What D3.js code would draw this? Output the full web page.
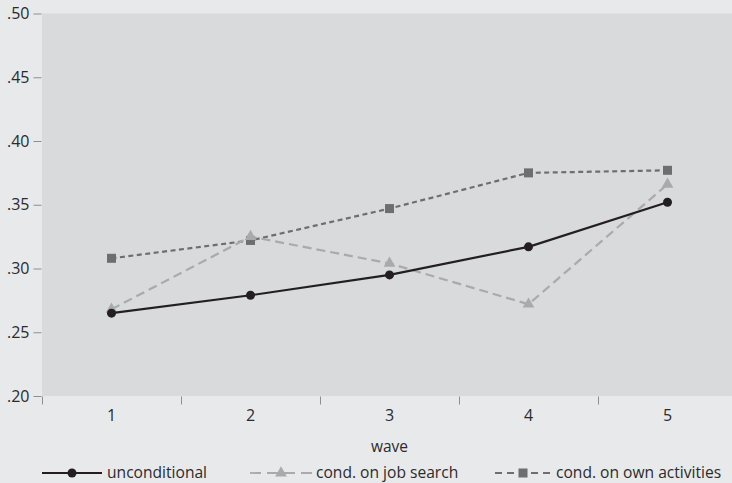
<!DOCTYPE html>
<html>
<head>
<meta charset="utf-8">
<script src="https://cdn.jsdelivr.net/npm/d3@7"></script>
<style>
body { margin:0; background:#e8e9eb; }
svg text { font-family:"Open Sans", sans-serif; fill:#2b2b2b; }
</style>
</head>
<body>
<svg id="chart"></svg>
<script>
//values
var waves = [1, 2, 3, 4, 5]
var unconditional = [0.265, 0.279, 0.295, 0.317, 0.352]
var jobSearch = [0.268, 0.325, 0.304, 0.272, 0.366]
var ownActivities = [0.308, 0.322, 0.347, 0.375, 0.377]
var yTicks = [0.20, 0.25, 0.30, 0.35, 0.40, 0.45, 0.50]
var xMinorTicks = [0.5, 1.5, 2.5, 3.5, 4.5]

var series = [
    {name:"unconditional", values:unconditional, color:"#231f20", dash:null, legendDash:null, marker:"circle"},
    {name:"cond. on job search", values:jobSearch, color:"#a9aaac", dash:"9,5", legendDash:"11,6", marker:"triangle"},
    {name:"cond. on own activities", values:ownActivities, color:"#6d6e71", dash:"5,3.5", legendDash:"7,5", marker:"square"}
]

var screen = {width:732, height:483}
var plot = {left:42, top:13.5, right:737, bottom:396}

var svg = d3.select("#chart")
    .attr("width", screen.width)
    .attr("height", screen.height)

svg.append("rect")
    .attr("width", screen.width)
    .attr("height", screen.height)
    .attr("fill", "#e8e9eb")

svg.append("rect")
    .attr("x", plot.left)
    .attr("y", plot.top)
    .attr("width", screen.width - plot.left)
    .attr("height", plot.bottom - plot.top)
    .attr("fill", "#d9dadc")

var xScale = d3.scaleLinear()
    .domain([0.5, 5.5])
    .range([plot.left, plot.right])

var yScale = d3.scaleLinear()
    .domain([0.20, 0.50])
    .range([plot.bottom, plot.top])

//y axis
var yAxis = d3.axisLeft(yScale)
    .tickValues(yTicks)
    .tickSize(8)
    .tickPadding(4)
    .tickFormat(function(d) { return d3.format(".2f")(d).replace(/^0/, "") })

var gy = svg.append("g")
    .attr("transform", "translate(" + (plot.left - 0.5) + ",0)")
    .call(yAxis)
gy.select(".domain").remove()
gy.selectAll("line").attr("stroke", "#8e8f91")
gy.selectAll("text").style("font-size", "16px").attr("fill", "#2b2b2b")

//x axis: minor ticks between waves, labels at waves
var xAxis = d3.axisBottom(xScale)
    .tickValues(xMinorTicks)
    .tickSize(8)
    .tickFormat("")
var gx = svg.append("g")
    .attr("transform", "translate(0," + (plot.bottom + 0.5) + ")")
    .call(xAxis)
gx.select(".domain").remove()
gx.selectAll("line").attr("stroke", "#8e8f91")

svg.append("g")
    .selectAll("text")
    .data(waves)
    .enter()
    .append("text")
    .attr("x", function(d) { return xScale(d) })
    .attr("y", 421)
    .attr("text-anchor", "middle")
    .style("font-size", "16px")
    .text(function(d) { return d })

svg.append("text")
    .attr("x", xScale(3))
    .attr("y", 452)
    .attr("text-anchor", "middle")
    .style("font-size", "15.5px")
    .text("wave")

//lines
var line = d3.line()
    .x(function(d, i) { return xScale(waves[i]) })
    .y(function(d) { return yScale(d) })

var drawMarker = function(g, s, x, y)
{
    if (s.marker == "circle") {
        g.append("circle").attr("cx", x).attr("cy", y).attr("r", 4.5).attr("fill", s.color)
    } else if (s.marker == "triangle") {
        g.append("path")
            .attr("d", d3.symbol().type(d3.symbolTriangle).size(60)())
            .attr("transform", "translate(" + x + "," + y + ")")
            .attr("fill", s.color)
    } else {
        g.append("rect").attr("x", x - 4.5).attr("y", y - 4.5)
            .attr("width", 9).attr("height", 9).attr("fill", s.color)
    }
}

//draw in reverse so the solid line sits on top
series.slice().reverse().forEach(function(s)
{
    var g = svg.append("g")
    g.append("path")
        .attr("d", line(s.values))
        .attr("fill", "none")
        .attr("stroke", s.color)
        .attr("stroke-width", 2.2)
        .attr("stroke-dasharray", s.dash)
    s.values.forEach(function(v, i)
    {
        drawMarker(g, s, xScale(waves[i]), yScale(v))
    })
})

//legend: line start, line end, text start
var legendItems = [[42, 102, 107], [250, 312, 316], [495, 551, 556]]
var legendY = 473
series.forEach(function(s, i)
{
    var g = svg.append("g")
    var pos = legendItems[i]
    g.append("line")
        .attr("x1", pos[0]).attr("x2", pos[1])
        .attr("y1", legendY).attr("y2", legendY)
        .attr("stroke", s.color)
        .attr("stroke-width", 1.8)
        .attr("stroke-dasharray", s.legendDash)
    drawMarker(g, s, (pos[0] + pos[1]) / 2, legendY)
    g.append("text")
        .attr("x", pos[2])
        .attr("y", legendY + 5)
        .style("font-size", "15.6px")
        .text(s.name)
})
</script>
</body>
</html>
